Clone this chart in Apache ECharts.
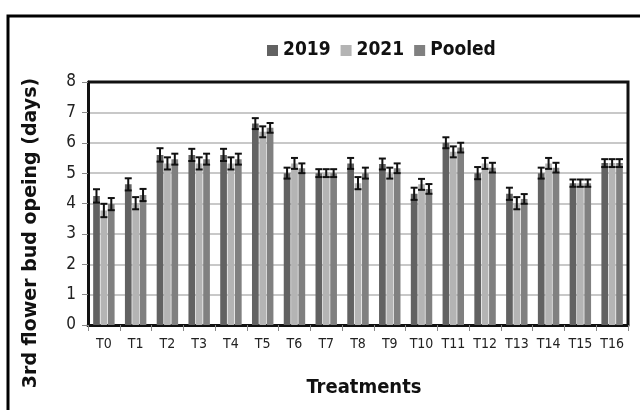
<!DOCTYPE html>
<html>
<head>
<meta charset="utf-8">
<script src="https://cdn.jsdelivr.net/npm/echarts@6/dist/echarts.min.js"></script>
<style>
  html, body { margin: 0; padding: 0; background: #fff; }
  #chart { width: 640px; height: 410px; }
</style>
</head>
<body>
<div id="chart"></div>
<script>
// Treatments on the category axis
const categories = ['T0','T1','T2','T3','T4','T5','T6','T7','T8','T9','T10','T11','T12','T13','T14','T15','T16'];
const seriesNames = ['2019', '2021', 'Pooled'];

// Days to 3rd flower bud opening
const values2019   = [4.25, 4.63, 5.60, 5.60, 5.60, 6.63, 5.00, 5.00, 5.32, 5.30, 4.32, 6.00, 5.00, 4.32, 5.00, 4.67, 5.33];
const values2021   = [3.77, 4.01, 5.32, 5.32, 5.32, 6.36, 5.32, 5.00, 4.67, 5.00, 4.63, 5.70, 5.32, 4.01, 5.32, 4.67, 5.33];
const valuesPooled = [3.98, 4.28, 5.46, 5.46, 5.46, 6.49, 5.16, 5.00, 5.00, 5.16, 4.48, 5.84, 5.18, 4.15, 5.18, 4.67, 5.33];

// Standard errors
const err2019   = [0.22, 0.20, 0.22, 0.20, 0.20, 0.18, 0.18, 0.13, 0.18, 0.18, 0.20, 0.18, 0.20, 0.20, 0.18, 0.12, 0.13];
const err2021   = [0.22, 0.20, 0.20, 0.20, 0.20, 0.18, 0.18, 0.13, 0.20, 0.18, 0.18, 0.18, 0.18, 0.20, 0.18, 0.12, 0.13];
const errPooled = [0.20, 0.20, 0.18, 0.18, 0.18, 0.16, 0.16, 0.13, 0.18, 0.16, 0.16, 0.16, 0.16, 0.16, 0.16, 0.12, 0.13];

const yTicks = [0, 1, 2, 3, 4, 5, 6, 7, 8];

const colors = ['#626262', '#b4b4b4', '#808080'];
const allValues = [values2019, values2021, valuesPooled];
const allErrors = [err2019, err2021, errPooled];

const FONT = "'Liberation Sans Narrow', 'DejaVu Sans Condensed', 'Liberation Sans', sans-serif";
const BAR_W = 6.7;
const BAR_STEP = 7.4;

const barSeries = seriesNames.map((name, i) => ({
  name: name,
  type: 'bar',
  data: allValues[i],
  barWidth: BAR_W,
  barGap: '10%',
  itemStyle: { color: colors[i] },
  z: 2
}));

// Error bars centred on each bar of the group
const errorSeries = seriesNames.map((name, i) => ({
  type: 'custom',
  name: name + ' err',
  data: allValues[i].map((v, k) => [k, v - allErrors[i][k], v + allErrors[i][k]]),
  z: 5,
  silent: true,
  renderItem: function (params, api) {
    const k = api.value(0);
    const lo = api.coord([k, api.value(1)]);
    const hi = api.coord([k, api.value(2)]);
    const x = lo[0] + (i - 1) * BAR_STEP;
    const cap = 3.5;
    const st = { stroke: '#111', lineWidth: 2 };
    return {
      type: 'group',
      children: [
        { type: 'line', shape: { x1: x, y1: lo[1], x2: x, y2: hi[1] }, style: st },
        { type: 'line', shape: { x1: x - cap, y1: lo[1], x2: x + cap, y2: lo[1] }, style: st },
        { type: 'line', shape: { x1: x - cap, y1: hi[1], x2: x + cap, y2: hi[1] }, style: st }
      ]
    };
  }
}));

const chart = echarts.init(document.getElementById('chart'), null, { renderer: 'canvas' });

chart.setOption({
  animation: false,
  backgroundColor: '#ffffff',
  color: colors,
  legend: {
    data: seriesNames,
    left: 262,
    top: 36,
    itemWidth: 11,
    itemHeight: 11,
    itemGap: 10,
    icon: 'rect',
    textStyle: { fontFamily: FONT, fontSize: 19, fontWeight: 'bold', color: '#111' }
  },
  grid: { left: 88, top: 82, width: 540, height: 243, show: false },
  xAxis: {
    type: 'category',
    data: categories,
    axisLine: { lineStyle: { color: '#111', width: 3 } },
    axisTick: { show: true, length: 6, lineStyle: { color: '#888', width: 1 } },
    axisLabel: { interval: 0, fontFamily: FONT, fontSize: 14, color: '#222', margin: 12 }
  },
  yAxis: {
    type: 'value',
    min: yTicks[0],
    max: yTicks[yTicks.length - 1],
    interval: 1,
    axisLine: { show: true, lineStyle: { color: '#111', width: 3 } },
    axisTick: { show: true, length: 6, lineStyle: { color: '#888', width: 1 } },
    axisLabel: { fontFamily: FONT, fontSize: 17, color: '#222', margin: 12 },
    splitLine: { lineStyle: { color: '#c8c8c8', width: 2 } }
  },
  graphic: [
    // outer chart border
    { type: 'rect', shape: { x: 8, y: 16, width: 650, height: 420 },
      style: { fill: 'none', stroke: '#000', lineWidth: 3 }, z: 10, silent: true },
    // plot frame (top and right edges)
    { type: 'polyline', shape: { points: [[88, 82], [628, 82], [628, 325]] },
      style: { fill: 'none', stroke: '#111', lineWidth: 3 }, z: 10, silent: true },
    { type: 'text', x: 31, y: 233, rotation: Math.PI / 2,
      style: { text: '3rd flower bud opeing (days)', fontFamily: "'DejaVu Sans', sans-serif",
        fontSize: 19, fontWeight: 'bold', fill: '#111', textAlign: 'center', textVerticalAlign: 'middle' } },
    { type: 'text', x: 364, y: 388,
      style: { text: 'Treatments', fontFamily: FONT, fontSize: 20, fontWeight: 'bold', fill: '#111',
        textAlign: 'center', textVerticalAlign: 'middle' } }
  ],
  series: barSeries.concat(errorSeries)
});
</script>
</body>
</html>
